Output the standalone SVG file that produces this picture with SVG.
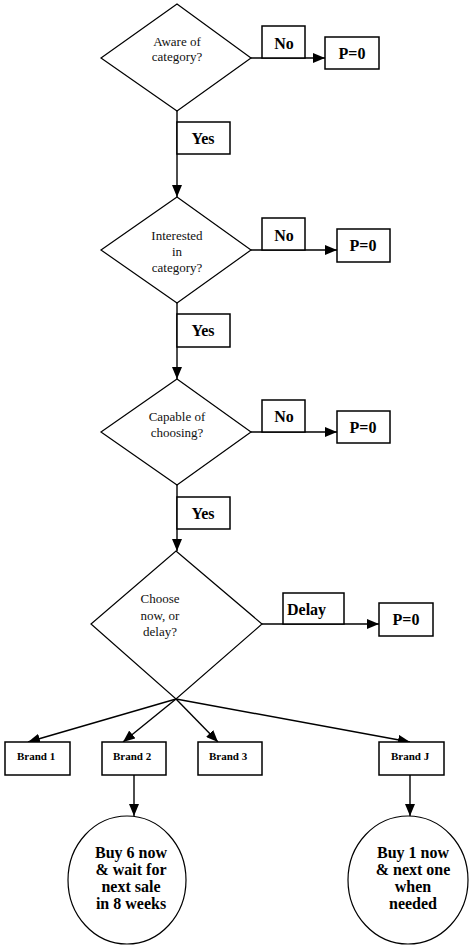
<svg xmlns="http://www.w3.org/2000/svg" width="470" height="946" viewBox="0 0 470 946">
  <defs>
    <marker id="arrow" markerUnits="userSpaceOnUse" markerWidth="12" markerHeight="10" refX="12" refY="5" orient="auto">
      <path d="M0,0 L12,5 L0,10 Z" fill="#000"/>
    </marker>
    <style>
      .shape { fill: #fff; stroke: #000; stroke-width: 1.2; }
      .box { fill: #fff; stroke: #000; stroke-width: 1.5; }
      .link { fill: none; stroke: #000; stroke-width: 1.4; }
      .q { font-family: "Liberation Serif", "Times New Roman", serif; font-size: 13px; fill: #111; text-anchor: middle; }
      .lbl { font-family: "Liberation Serif", "Times New Roman", serif; font-size: 16px; font-weight: bold; fill: #000; }
      .brand { font-family: "Liberation Serif", "Times New Roman", serif; font-size: 11px; font-weight: bold; fill: #000; }
      .end { font-family: "Liberation Serif", "Times New Roman", serif; font-size: 16px; font-weight: bold; fill: #000; text-anchor: middle; }
      .mid { text-anchor: middle; }
    </style>
  </defs>
  <rect width="470" height="946" fill="#fff"/>

  <!-- connectors -->
  <g id="connectors">
    <path class="link" d="M177,111 V197" marker-end="url(#arrow)"/>
    <path class="link" d="M177,303 V379" marker-end="url(#arrow)"/>
    <path class="link" d="M177,485 V551" marker-end="url(#arrow)"/>
    <path class="link" d="M251,58 H325" marker-end="url(#arrow)"/>
    <path class="link" d="M251,250 H337" marker-end="url(#arrow)"/>
    <path class="link" d="M251,432 H337" marker-end="url(#arrow)"/>
    <path class="link" d="M262,624 H379" marker-end="url(#arrow)"/>
    <path class="link" d="M176,699 L28,742" marker-end="url(#arrow)"/>
    <path class="link" d="M176,699 L123,742" marker-end="url(#arrow)"/>
    <path class="link" d="M176,699 L218,742" marker-end="url(#arrow)"/>
    <path class="link" d="M176,699 L410,742" marker-end="url(#arrow)"/>
    <path class="link" d="M134,775 V816" marker-end="url(#arrow)"/>
    <path class="link" d="M410,775 V816" marker-end="url(#arrow)"/>
  </g>

  <!-- decision 1 -->
  <g id="aware">
    <polygon class="shape" points="177,4 251,58 177,111 101,58"/>
    <text class="q" x="177" y="46">Aware of</text>
    <text class="q" x="177" y="61">category?</text>
  </g>
  <g id="aware-no">
    <rect class="box" x="262" y="26" width="43" height="32"/>
    <text class="lbl mid" x="284" y="49">No</text>
  </g>
  <g id="aware-p0">
    <rect class="box" x="325" y="37" width="54" height="32"/>
    <text class="lbl mid" x="352" y="59">P=0</text>
  </g>
  <g id="aware-yes">
    <rect class="box" x="177" y="122" width="53" height="32"/>
    <text class="lbl mid" x="203" y="144">Yes</text>
  </g>

  <!-- decision 2 -->
  <g id="interested">
    <polygon class="shape" points="177,197 251,250 177,303 101,250"/>
    <text class="q" x="177" y="240">Interested</text>
    <text class="q" x="177" y="256">in</text>
    <text class="q" x="177" y="272">category?</text>
  </g>
  <g id="interested-no">
    <rect class="box" x="262" y="218" width="43" height="32"/>
    <text class="lbl mid" x="284" y="241">No</text>
  </g>
  <g id="interested-p0">
    <rect class="box" x="337" y="229" width="53" height="33"/>
    <text class="lbl mid" x="363" y="251">P=0</text>
  </g>
  <g id="interested-yes">
    <rect class="box" x="177" y="314" width="53" height="33"/>
    <text class="lbl mid" x="203" y="336">Yes</text>
  </g>

  <!-- decision 3 -->
  <g id="capable">
    <polygon class="shape" points="177,379 251,432 177,485 101,432"/>
    <text class="q" x="177" y="421">Capable of</text>
    <text class="q" x="177" y="437">choosing?</text>
  </g>
  <g id="capable-no">
    <rect class="box" x="262" y="400" width="43" height="32"/>
    <text class="lbl mid" x="284" y="422">No</text>
  </g>
  <g id="capable-p0">
    <rect class="box" x="337" y="411" width="53" height="32"/>
    <text class="lbl mid" x="363" y="433">P=0</text>
  </g>
  <g id="capable-yes">
    <rect class="box" x="177" y="497" width="53" height="32"/>
    <text class="lbl mid" x="203" y="519">Yes</text>
  </g>

  <!-- decision 4 -->
  <g id="choose">
    <polygon class="shape" points="176,551 262,624 176,699 91,624"/>
    <text class="q" x="160" y="603" text-anchor="start">Choose</text>
    <text class="q" x="160" y="620" text-anchor="start">now, or</text>
    <text class="q" x="160" y="636" text-anchor="start">delay?</text>
  </g>
  <g id="choose-delay">
    <rect class="box" x="283" y="593" width="61" height="31"/>
    <text class="lbl" x="287" y="615">Delay</text>
  </g>
  <g id="choose-p0">
    <rect class="box" x="379" y="603" width="54" height="33"/>
    <text class="lbl mid" x="406" y="625">P=0</text>
  </g>

  <!-- brands -->
  <g id="brand-1">
    <rect class="box" x="5" y="742" width="65" height="33"/>
    <text class="brand" x="17" y="760">Brand 1</text>
  </g>
  <g id="brand-2">
    <rect class="box" x="102" y="742" width="64" height="33"/>
    <text class="brand" x="113" y="760">Brand 2</text>
  </g>
  <g id="brand-3">
    <rect class="box" x="198" y="742" width="64" height="33"/>
    <text class="brand" x="209" y="760">Brand 3</text>
  </g>
  <g id="brand-j">
    <rect class="box" x="379" y="742" width="65" height="33"/>
    <text class="brand" x="391" y="760">Brand J</text>
  </g>

  <!-- outcomes -->
  <g id="outcome-2">
    <ellipse class="shape" cx="127" cy="880" rx="59" ry="64"/>
    <text class="end" x="131" y="858">Buy 6 now</text>
    <text class="end" x="131" y="875">&amp; wait for</text>
    <text class="end" x="131" y="892">next sale</text>
    <text class="end" x="131" y="909">in 8 weeks</text>
  </g>
  <g id="outcome-j">
    <ellipse class="shape" cx="408" cy="880" rx="60" ry="64"/>
    <text class="end" x="413" y="858">Buy 1 now</text>
    <text class="end" x="413" y="875">&amp; next one</text>
    <text class="end" x="413" y="892">when</text>
    <text class="end" x="413" y="909">needed</text>
  </g>
</svg>
